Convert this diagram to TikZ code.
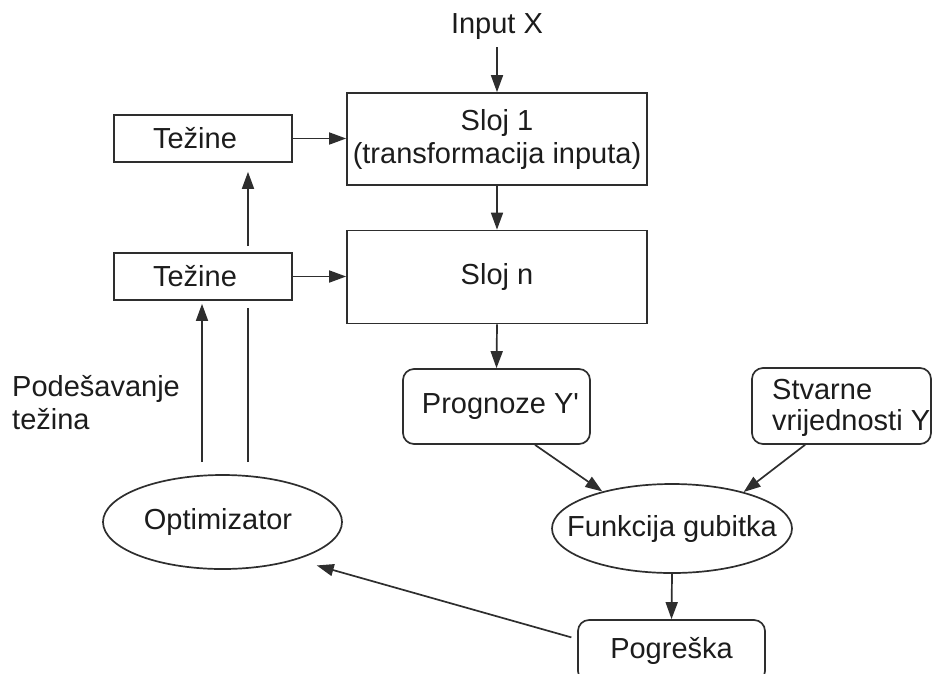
\documentclass[tikz,border=0pt]{standalone}
\usepackage{fontspec}
\setmainfont{Liberation Sans}[Ligatures=TeXOff]
\usetikzlibrary{arrows.meta,shapes.geometric,calc}
\definecolor{ink}{HTML}{1C1C1C}
\definecolor{edge}{HTML}{2E2E2E}
\begin{document}
\begin{tikzpicture}[x=1pt,y=-1pt,
  every node/.style={font=\fontsize{29}{33}\selectfont, text=ink, inner sep=0pt},
  box/.style={draw=edge, line width=1.7pt},
  rbox/.style={box, rounded corners=11pt},
  oval/.style={box, ellipse},
  conn/.style={draw=edge, line width=1.7pt},
  arr/.style={conn, -{Triangle[length=17pt,width=12pt]}},
]
\useasboundingbox (0,0) rectangle (933,673);
\clip (0,0) rectangle (933,673);

% layers and weights
\node[anchor=base] (inx) at (497,33) {Input X};
\node[box, minimum width=300pt, minimum height=92pt, align=center] (sa) at (497,139)
  {Sloj 1\\(transformacija inputa)};
\node[box, minimum width=300pt, minimum height=93pt] (sn) at (497,277) {Sloj n};
\node[box, minimum width=178pt, minimum height=47pt] (teza) at (203,138.5) {Težine\hspace*{16pt}};
\node[box, minimum width=178pt, minimum height=47pt] (tezb) at (203,276.5) {Težine\hspace*{16pt}};

% outputs, loss and optimizer (oval labels get zero width so the size is fixed)
\node[rbox, minimum width=187pt, minimum height=75pt] (prog) at (496.5,406.5) {\hspace*{8pt}Prognoze Y'};
\node[rbox, minimum width=179pt, minimum height=76pt] (stv) at (841.5,406) {};
\node[anchor=west, align=left, font=\fontsize{29}{31}\selectfont] (stvt) at (772,408)
  {Stvarne\\vrijednosti Y};
\node[oval, minimum width=240pt, minimum height=89pt] (funk) at (672,528.5)
  {\makebox[0pt]{Funkcija gubitka}};
\node[oval, minimum width=239pt, minimum height=94pt] (opt) at (222.5,522)
  {\makebox[0pt]{Optimizator\hspace*{9pt}}};
\node[rbox, minimum width=187pt, minimum height=62pt] (pog) at (671.5,651) {Pogreška};
\node[anchor=west, align=left] (pod) at (12,403) {Podešavanje\\težina};

% forward pass
\draw[arr] ($(inx.base)+(0,14)$) -- (sa.north);
\draw[arr] (sa.south) -- (sn.north);
\draw[arr] (sn.south) -- (prog.north);
\draw[arr] (teza.east) -- (sa.west |- teza.east);
\draw[arr] (tezb.east) -- (sn.west |- tezb.east);

% loss
\draw[arr] ($(prog.south)+(38.5,0)$) -- (funk.152);
\draw[arr] ($(stv.south)+(-36.5,0)$) -- (funk.27);
\draw[arr] (funk.south) -- (pog.north);
\draw[arr, shorten <=6pt, shorten >=21pt] ($(pog.west)+(0,-12)$) -- (opt.-27);

% weight updates
\coordinate (l1) at ($(tezb.south)+(-1,0)$);
\coordinate (l2) at ($(tezb.south)+(45,0)$);
\draw[arr, shorten <=12pt, shorten >=3pt] (l1 |- opt.north) -- (l1);
\draw[conn, shorten <=12pt, shorten >=7pt] (l2 |- opt.north) -- (l2);
\draw[arr, shorten <=6pt, shorten >=9pt] ($(tezb.north)+(45,0)$) -- ($(teza.south)+(45,0)$);
\end{tikzpicture}
\end{document}
